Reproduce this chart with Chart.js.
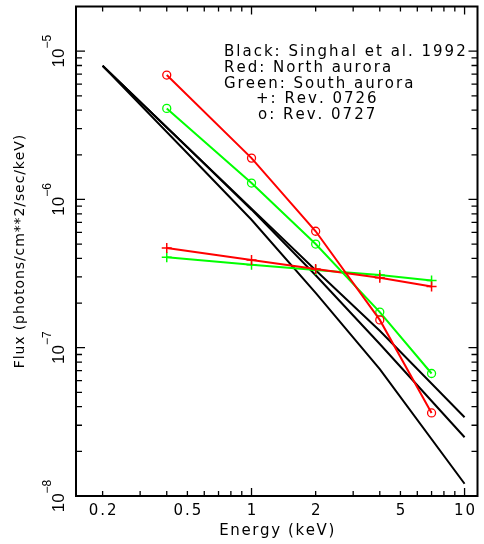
<!DOCTYPE html>
<html>
<head>
<meta charset="utf-8">
<script src="https://cdn.jsdelivr.net/npm/chart.js@4/dist/chart.umd.min.js"></script>
<style>
  body { margin: 0; background: #fff; }
  #wrap { width: 484px; height: 544px; }
</style>
</head>
<body>
<div id="wrap"><canvas id="fluxChart"></canvas></div>
<script>
// ---- data ----
const auroraEnergy = [0.4, 1, 2, 4, 7];           // keV
const northRev0727 = [6.9e-6, 1.90e-6, 6.1e-7, 1.54e-7, 3.63e-8];
const southRev0727 = [4.11e-6, 1.29e-6, 5.0e-7, 1.74e-7, 6.7e-8];
const northRev0726 = [4.71e-7, 3.90e-7, 3.39e-7, 2.96e-7, 2.59e-7];
const southRev0726 = [4.08e-7, 3.62e-7, 3.34e-7, 3.09e-7, 2.84e-7];

const singhalEnergy = [0.2, 0.5, 1, 2, 4, 10];
const singhalA = [7.96e-6, 2.25e-6, 8.67e-7, 3.33e-7, 1.30e-7, 3.40e-8];
const singhalB = [7.96e-6, 2.25e-6, 8.53e-7, 3.08e-7, 1.06e-7, 2.49e-8];
const singhalC = [7.96e-6, 2.05e-6, 7.29e-7, 2.34e-7, 7.18e-8, 1.21e-8];

const xTickValues = [0.2, 0.5, 1, 2, 5, 10];
const xTickLabels = ['0.2', '0.5', '1', '2', '5', '10'];
const yTickValues = [1e-8, 1e-7, 1e-6, 1e-5];
const yTickExponents = ['\u22128', '\u22127', '\u22126', '\u22125'];

const legendLines = [
  'Black: Singhal et al. 1992',
  'Red: North aurora',
  'Green: South aurora',
  '     +: Rev. 0726',
  '     o: Rev. 0727'
];

function pts(xs, ys) {
  return xs.map((x, i) => ({ x: x, y: ys[i] }));
}

function spacedWidth(ctx, s, sp) {
  let w = 0;
  for (const ch of s) w += ctx.measureText(ch).width;
  return w + sp * (s.length - 1);
}
function drawSpaced(ctx, s, x, y, sp) {
  for (const ch of s) {
    ctx.fillText(ch, x, y);
    x += ctx.measureText(ch).width + sp;
  }
}

// frame, inward ticks, labels, legend text (PGPLOT look)
const framePlugin = {
  id: 'frame',
  afterDraw(chart) {
    const ctx = chart.ctx;
    const a = chart.chartArea;
    const xs = chart.scales.x, ys = chart.scales.y;
    ctx.save();
    ctx.strokeStyle = '#000';
    ctx.fillStyle = '#000';
    ctx.lineWidth = 1.3;

    // x ticks (top + bottom)
    ctx.beginPath();
    for (let dec = 0.1; dec < 20; dec *= 10) {
      for (let m = 1; m <= 9; m++) {
        const v = m * dec;
        if (v < xs.min || v > xs.max) continue;
        const px = xs.getPixelForValue(v);
        const len = m === 1 ? 8 : 5;
        ctx.moveTo(px, a.bottom); ctx.lineTo(px, a.bottom - len);
        ctx.moveTo(px, a.top); ctx.lineTo(px, a.top + len);
      }
    }
    // y ticks (left + right)
    for (let dec = 1e-8; dec < 1e-4; dec *= 10) {
      for (let m = 1; m <= 9; m++) {
        const v = m * dec;
        if (v < ys.min * 0.999 || v > ys.max * 0.999) continue;
        const py = ys.getPixelForValue(v);
        const len = m === 1 ? 9 : 6;
        ctx.moveTo(a.left, py); ctx.lineTo(a.left + len, py);
        ctx.moveTo(a.right, py); ctx.lineTo(a.right - len, py);
      }
    }
    ctx.stroke();

    ctx.lineWidth = 2;
    ctx.strokeRect(a.left, a.top, a.right - a.left, a.bottom - a.top);

    // x tick labels
    ctx.font = '15px "DejaVu Sans"';
    ctx.textBaseline = 'alphabetic';
    xTickValues.forEach((v, i) => {
      const px = xs.getPixelForValue(v);
      const w = spacedWidth(ctx, xTickLabels[i], 2);
      drawSpaced(ctx, xTickLabels[i], px - w / 2, 515, 2);
    });

    // y tick labels: 10^n rotated
    yTickValues.forEach((v, i) => {
      const py = ys.getPixelForValue(v);
      ctx.save();
      ctx.translate(64, py);
      ctx.rotate(-Math.PI / 2);
      ctx.font = '17px "Liberation Sans"';
      const w10 = ctx.measureText('10').width;
      ctx.font = '12px "Liberation Sans"';
      const wExp = ctx.measureText(yTickExponents[i]).width;
      const start = -(w10 + wExp) / 2;
      ctx.font = '17px "Liberation Sans"';
      ctx.fillText('10', start, 0);
      ctx.font = '12px "Liberation Sans"';
      ctx.fillText(yTickExponents[i], start + w10, -13);
      ctx.restore();
    });

    // axis titles
    ctx.font = '15px "DejaVu Sans"';
    const xt = 'Energy (keV)';
    const xw = spacedWidth(ctx, xt, 1.6);
    drawSpaced(ctx, xt, (a.left + a.right) / 2 - xw / 2, 535, 1.6);

    ctx.save();
    ctx.translate(23.5, 251.5);
    ctx.rotate(-Math.PI / 2);
    ctx.font = '14px "DejaVu Sans"';
    const yt = 'Flux (photons/cm**2/sec/keV)';
    const yw = spacedWidth(ctx, yt, 0.9);
    drawSpaced(ctx, yt, -yw / 2, 0, 0.9);
    ctx.restore();

    // legend text block
    ctx.font = '15px "DejaVu Sans"';
    const baselines = [56, 72, 88, 103, 118.5];
    legendLines.forEach((t, i) => {
      const s = t.trimStart();
      const x0 = t.startsWith(' ') ? (s.startsWith('+') ? 256 : 258) : 224;
      drawSpaced(ctx, s, x0, baselines[i], 2);
    });
    ctx.restore();
  }
};

const ctx = document.getElementById('fluxChart').getContext('2d');
new Chart(ctx, {
  type: 'line',
  data: {
    datasets: [
      {
        data: pts(auroraEnergy, northRev0727),
        borderColor: '#ff0000', borderWidth: 2,
        pointStyle: 'circle', pointRadius: 4,
        pointBorderColor: '#ff0000', pointBackgroundColor: 'rgba(0,0,0,0)', pointBorderWidth: 1.3
      },
      {
        data: pts(auroraEnergy, southRev0727),
        borderColor: '#00ff00', borderWidth: 2,
        pointStyle: 'circle', pointRadius: 4,
        pointBorderColor: '#00ff00', pointBackgroundColor: 'rgba(0,0,0,0)', pointBorderWidth: 1.3
      },
      {
        data: pts(auroraEnergy, northRev0726),
        borderColor: '#ff0000', borderWidth: 2,
        pointStyle: 'cross', pointRadius: 5,
        pointBorderColor: '#ff0000', pointBorderWidth: 1.5
      },
      {
        data: pts(auroraEnergy, southRev0726),
        borderColor: '#00ff00', borderWidth: 2,
        pointStyle: 'cross', pointRadius: 5,
        pointBorderColor: '#00ff00', pointBorderWidth: 1.5
      },
      { data: pts(singhalEnergy, singhalA), borderColor: '#000', borderWidth: 2, pointRadius: 0 },
      { data: pts(singhalEnergy, singhalB), borderColor: '#000', borderWidth: 2, pointRadius: 0 },
      { data: pts(singhalEnergy, singhalC), borderColor: '#000', borderWidth: 2, pointRadius: 0 }
    ]
  },
  options: {
    responsive: true,
    maintainAspectRatio: false,
    animation: false,
    events: [],
    layout: { padding: { left: 76, top: 5, right: 3.5, bottom: 48 } },
    plugins: { legend: { display: false }, tooltip: { enabled: false } },
    elements: { line: { tension: 0, fill: false } },
    scales: {
      x: { type: 'logarithmic', min: 0.15, max: 11.5, display: false },
      y: { type: 'logarithmic', min: 1e-8, max: 2e-5, display: false }
    }
  },
  plugins: [framePlugin]
});
</script>
</body>
</html>
